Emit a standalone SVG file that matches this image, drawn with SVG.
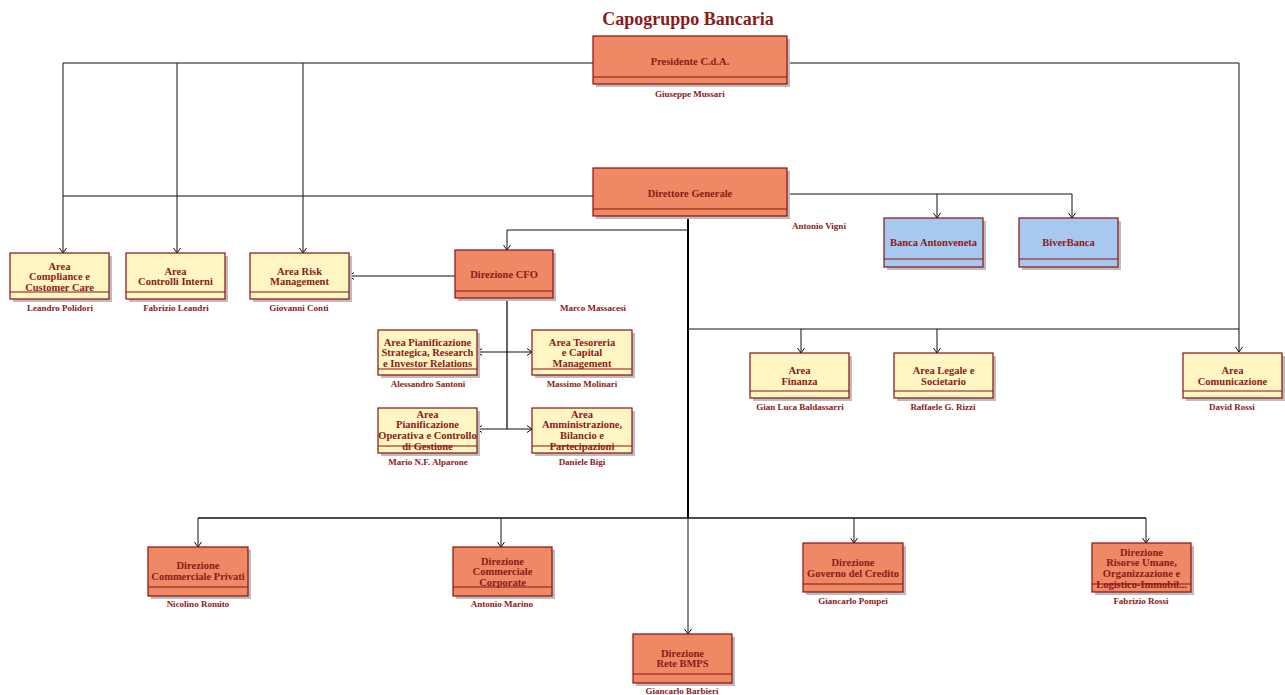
<svg xmlns="http://www.w3.org/2000/svg" width="1285" height="695" viewBox="0 0 1285 695">
<style>
text{font-family:"Liberation Serif","Times New Roman",serif;font-weight:bold;fill:#8B1A1A;text-anchor:middle}
.t{font-size:10.5px}
.n{font-size:9px}
.title{font-size:18px}
.sh{fill:#BDBDBD}
.box{stroke:#8B1010;stroke-width:1.2}
.o{fill:#EF8865}
.y{fill:#FFF6C4}
.b{fill:#A7C9EF}
.div{stroke:#8B1010;stroke-width:1.2}
.c{fill:none;stroke:#111;stroke-width:1}
.k{fill:none;stroke:#000;stroke-width:2}
</style>
<defs>
<marker id="a" viewBox="0 0 5 8" refX="5" refY="4" markerWidth="5" markerHeight="8" markerUnits="userSpaceOnUse" orient="auto">
<path d="M0,0.5 L5,4 L0,7.5" fill="none" stroke="#111" stroke-width="1"/>
</marker>
</defs>
<rect width="1285" height="695" fill="#fff"/>
<text class="title" x="688" y="25">Capogruppo Bancaria</text>

<g id="connectors">
<path class="c" d="M593,63 H63 V253" marker-end="url(#a)"/>
<path class="c" d="M177,63 V253" marker-end="url(#a)"/>
<path class="c" d="M303,63 V253" marker-end="url(#a)"/>
<path class="c" d="M593,196 H63"/>
<path class="c" d="M787,63 H1239 V352" marker-end="url(#a)"/>
<path class="c" d="M787,194 H1072 V218" marker-end="url(#a)"/>
<path class="c" d="M937,194 V218" marker-end="url(#a)"/>
<path class="k" d="M688,216 V518"/>
<path class="c" d="M688,230 H507 V250" marker-end="url(#a)"/>
<path class="c" d="M688,329 H1239"/>
<path class="c" d="M801,329 V353" marker-end="url(#a)"/>
<path class="c" d="M937,329 V353" marker-end="url(#a)"/>
<path class="c" d="M198,518 H1146" style="stroke-width:1.3"/>
<path class="c" d="M198,518 V547" marker-end="url(#a)"/>
<path class="c" d="M501,518 V547" marker-end="url(#a)"/>
<path class="c" d="M854,518 V543" marker-end="url(#a)"/>
<path class="c" d="M1146,518 V543" marker-end="url(#a)"/>
<path class="c" d="M688,518 V634" marker-end="url(#a)"/>
<path class="c" d="M455,276 H349" marker-end="url(#a)"/>
<path class="c" d="M507,298 V429" style="stroke-width:1.3"/>
<path class="c" d="M507,352 H477" marker-end="url(#a)"/>
<path class="c" d="M507,352 H532" marker-end="url(#a)"/>
<path class="c" d="M507,429 H477" marker-end="url(#a)"/>
<path class="c" d="M507,429 H532" marker-end="url(#a)"/>
</g>

<g id="presidente">
<rect class="sh" x="596" y="39" width="194" height="48"/>
<rect class="box o" x="593" y="36" width="194" height="48"/>
<line class="div" x1="593" y1="77" x2="787" y2="77"/>
<text class="t" x="690" y="64.5">Presidente C.d.A.</text>
<text class="n" x="690" y="97">Giuseppe Mussari</text>
</g>

<g id="direttore">
<rect class="sh" x="596" y="171" width="194" height="48"/>
<rect class="box o" x="593" y="168" width="194" height="48"/>
<line class="div" x1="593" y1="209" x2="787" y2="209"/>
<text class="t" x="690" y="196.5">Direttore Generale</text>
<text class="n" x="819" y="229">Antonio Vigni</text>
</g>

<g id="compliance">
<rect class="sh" x="13" y="256" width="99" height="46"/>
<rect class="box y" x="10" y="253" width="99" height="46"/>
<line class="div" x1="10" y1="292" x2="109" y2="292"/>
<text class="t" x="59.5" y="269.5">Area</text>
<text class="t" x="59.5" y="280">Compliance e</text>
<text class="t" x="59.5" y="290.5">Customer Care</text>
<text class="n" x="60" y="311">Leandro Polidori</text>
</g>

<g id="controlli">
<rect class="sh" x="129" y="256" width="99" height="46"/>
<rect class="box y" x="126" y="253" width="99" height="46"/>
<line class="div" x1="126" y1="292" x2="225" y2="292"/>
<text class="t" x="175.5" y="274.5">Area</text>
<text class="t" x="175.5" y="285">Controlli Interni</text>
<text class="n" x="176" y="311">Fabrizio Leandri</text>
</g>

<g id="risk">
<rect class="sh" x="253" y="256" width="99" height="46"/>
<rect class="box y" x="250" y="253" width="99" height="46"/>
<line class="div" x1="250" y1="292" x2="349" y2="292"/>
<text class="t" x="299.5" y="274.5">Area Risk</text>
<text class="t" x="299.5" y="285">Management</text>
<text class="n" x="299" y="311">Giovanni Conti</text>
</g>

<g id="cfo">
<rect class="sh" x="458" y="253" width="98" height="48"/>
<rect class="box o" x="455" y="250" width="98" height="48"/>
<line class="div" x1="455" y1="291" x2="553" y2="291"/>
<text class="t" x="504" y="277.5">Direzione CFO</text>
<text class="n" x="593" y="311">Marco Massacesi</text>
</g>

<g id="pianificazione-strategica">
<rect class="sh" x="381" y="333" width="99" height="45"/>
<rect class="box y" x="378" y="330" width="99" height="45"/>
<line class="div" x1="378" y1="369" x2="477" y2="369"/>
<text class="t" x="427.5" y="345.5">Area Pianificazione</text>
<text class="t" x="427.5" y="356">Strategica, Research</text>
<text class="t" x="427.5" y="366.5">e Investor Relations</text>
<text class="n" x="428" y="387">Alessandro Santoni</text>
</g>

<g id="tesoreria">
<rect class="sh" x="535" y="333" width="100" height="45"/>
<rect class="box y" x="532" y="330" width="100" height="45"/>
<line class="div" x1="532" y1="369" x2="632" y2="369"/>
<text class="t" x="582" y="345.5">Area Tesoreria</text>
<text class="t" x="582" y="356">e Capital</text>
<text class="t" x="582" y="366.5">Management</text>
<text class="n" x="582" y="387">Massimo Molinari</text>
</g>

<g id="pianificazione-operativa">
<rect class="sh" x="381" y="411" width="99" height="45"/>
<rect class="box y" x="378" y="408" width="99" height="45"/>
<text class="t" x="427.5" y="417.5">Area</text>
<text class="t" x="427.5" y="428">Pianificazione</text>
<text class="t" x="427.5" y="438.5">Operativa e Controllo</text>
<text class="t" x="427.5" y="449.5">di Gestione</text>
<line class="div" x1="378" y1="446" x2="477" y2="446"/>
<text class="n" x="428" y="465">Mario N.F. Alparone</text>
</g>

<g id="amministrazione">
<rect class="sh" x="535" y="411" width="100" height="45"/>
<rect class="box y" x="532" y="408" width="100" height="45"/>
<text class="t" x="582" y="417.5">Area</text>
<text class="t" x="582" y="428">Amministrazione,</text>
<text class="t" x="582" y="438.5">Bilancio e</text>
<text class="t" x="582" y="449.5">Partecipazioni</text>
<line class="div" x1="532" y1="446" x2="632" y2="446"/>
<text class="n" x="582" y="465">Daniele Bigi</text>
</g>

<g id="antonveneta">
<rect class="sh" x="887" y="221" width="99" height="49"/>
<rect class="box b" x="884" y="218" width="99" height="49"/>
<line class="div" x1="884" y1="259" x2="983" y2="259"/>
<text class="t" x="933.5" y="245.5">Banca Antonveneta</text>
</g>

<g id="biverbanca">
<rect class="sh" x="1022" y="221" width="99" height="49"/>
<rect class="box b" x="1019" y="218" width="99" height="49"/>
<line class="div" x1="1019" y1="259" x2="1118" y2="259"/>
<text class="t" x="1068.5" y="245.5">BiverBanca</text>
</g>

<g id="finanza">
<rect class="sh" x="753" y="356" width="99" height="45"/>
<rect class="box y" x="750" y="353" width="99" height="45"/>
<line class="div" x1="750" y1="391" x2="849" y2="391"/>
<text class="t" x="799.5" y="373.5">Area</text>
<text class="t" x="799.5" y="384.5">Finanza</text>
<text class="n" x="800" y="410">Gian Luca Baldassarri</text>
</g>

<g id="legale">
<rect class="sh" x="897" y="356" width="99" height="45"/>
<rect class="box y" x="894" y="353" width="99" height="45"/>
<line class="div" x1="894" y1="391" x2="993" y2="391"/>
<text class="t" x="943.5" y="373.5">Area Legale e</text>
<text class="t" x="943.5" y="384.5">Societario</text>
<text class="n" x="943" y="410">Raffaele G. Rizzi</text>
</g>

<g id="comunicazione">
<rect class="sh" x="1186" y="356" width="99" height="45"/>
<rect class="box y" x="1183" y="353" width="99" height="45"/>
<line class="div" x1="1183" y1="391" x2="1282" y2="391"/>
<text class="t" x="1232.5" y="373.5">Area</text>
<text class="t" x="1232.5" y="384.5">Comunicazione</text>
<text class="n" x="1232" y="410">David Rossi</text>
</g>

<g id="commerciale-privati">
<rect class="sh" x="151" y="550" width="100" height="49"/>
<rect class="box o" x="148" y="547" width="100" height="49"/>
<line class="div" x1="148" y1="587" x2="248" y2="587"/>
<text class="t" x="198" y="568.5">Direzione</text>
<text class="t" x="198" y="580">Commerciale Privati</text>
<text class="n" x="198" y="607">Nicolino Romito</text>
</g>

<g id="commerciale-corporate">
<rect class="sh" x="456" y="550" width="99" height="49"/>
<rect class="box o" x="453" y="547" width="99" height="49"/>
<line class="div" x1="453" y1="587" x2="552" y2="587"/>
<text class="t" x="502.5" y="564.5">Direzione</text>
<text class="t" x="502.5" y="575">Commerciale</text>
<text class="t" x="502.5" y="585.5">Corporate</text>
<text class="n" x="502" y="607">Antonio Marino</text>
</g>

<g id="governo-credito">
<rect class="sh" x="806" y="546" width="100" height="49"/>
<rect class="box o" x="803" y="543" width="100" height="49"/>
<line class="div" x1="803" y1="584" x2="903" y2="584"/>
<text class="t" x="853" y="565.5">Direzione</text>
<text class="t" x="853" y="576.5">Governo del Credito</text>
<text class="n" x="853" y="604">Giancarlo Pompei</text>
</g>

<g id="risorse-umane">
<rect class="sh" x="1095" y="546" width="99" height="49"/>
<rect class="box o" x="1092" y="543" width="99" height="49"/>
<text class="t" x="1141.5" y="555.5">Direzione</text>
<text class="t" x="1141.5" y="566">Risorse Umane,</text>
<text class="t" x="1141.5" y="576.5">Organizzazione e</text>
<text class="t" x="1141.5" y="587.5">Logistico-Immobil...</text>
<line class="div" x1="1092" y1="584" x2="1191" y2="584"/>
<text class="n" x="1141" y="604">Fabrizio Rossi</text>
</g>

<g id="rete-bmps">
<rect class="sh" x="636" y="637" width="99" height="49"/>
<rect class="box o" x="633" y="634" width="99" height="49"/>
<line class="div" x1="633" y1="674" x2="732" y2="674"/>
<text class="t" x="682.5" y="656.5">Direzione</text>
<text class="t" x="682.5" y="666.5">Rete BMPS</text>
<text class="n" x="682" y="694">Giancarlo Barbieri</text>
</g>
</svg>
